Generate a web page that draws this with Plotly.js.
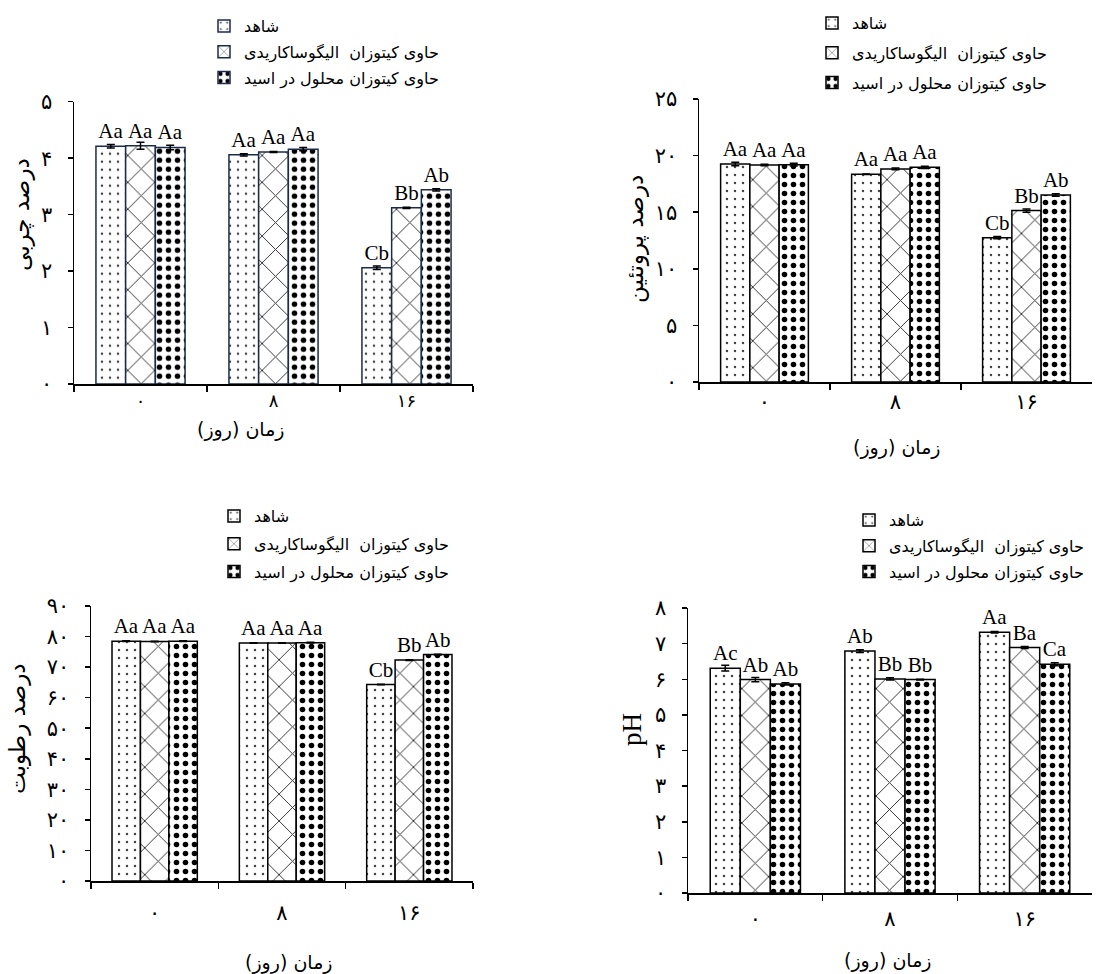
<!DOCTYPE html>
<html>
<head>
<meta charset="utf-8">
<script src="https://cdn.plot.ly/plotly-3.0.1.min.js"></script>
<style>html,body{margin:0;padding:0;background:#fff;}#chart{width:1118px;height:974px;}</style>
</head>
<body>
<div id="chart"></div>
<script>
// ---------- data ----------
const categories = ['۰', '۸', '۱۶'];
const seriesNames = ['شاهد', 'حاوی کیتوزان  الیگوساکاریدی', 'حاوی کیتوزان محلول در اسید'];

// fat %
const fatControl = [4.21, 4.06, 2.06];
const fatOligo   = [4.22, 4.11, 3.12];
const fatAcid    = [4.19, 4.16, 3.44];
const fatErrControl = [0.03, 0.02, 0.03];
const fatErrOligo   = [0.06, 0.01, 0.01];
const fatErrAcid    = [0.04, 0.03, 0.02];
const fatLabels = [['Aa','Aa','Cb'], ['Aa','Aa','Bb'], ['Aa','Aa','Ab']];

// protein %
const protControl = [19.26, 18.35, 12.75];
const protOligo   = [19.17, 18.82, 15.14];
const protAcid    = [19.20, 18.96, 16.52];
const protErrControl = [0.15, 0.03, 0.10];
const protErrOligo   = [0.06, 0.08, 0.15];
const protErrAcid    = [0.12, 0.10, 0.10];
const protLabels = [['Aa','Aa','Cb'], ['Aa','Aa','Bb'], ['Aa','Aa','Ab']];

// moisture %
const moistControl = [78.5, 77.9, 64.3];
const moistOligo   = [78.4, 77.9, 72.3];
const moistAcid    = [78.5, 78.0, 74.1];
const moistErrControl = [0.1, 0.1, 0.1];
const moistErrOligo   = [0.1, 0.1, 0.1];
const moistErrAcid    = [0.1, 0.1, 0.1];
const moistLabels = [['Aa','Aa','Cb'], ['Aa','Aa','Bb'], ['Aa','Aa','Ab']];

// pH
const phControl = [6.31, 6.79, 7.32];
const phOligo   = [5.99, 6.01, 6.89];
const phAcid    = [5.87, 5.99, 6.42];
const phErrControl = [0.08, 0.04, 0.02];
const phErrOligo   = [0.06, 0.03, 0.03];
const phErrAcid    = [0.03, 0.01, 0.04];
const phLabels = [['Ac','Ab','Aa'], ['Ab','Bb','Ba'], ['Ab','Bb','Ca']];

// tick labels
const fatTickVals = [0, 1, 2, 3, 4, 5];
const fatTickText = ['۰', '۱', '۲', '۳', '۴', '۵'];
const protTickVals = [0, 5, 10, 15, 20, 25];
const protTickText = ['۰', '۵', '۱۰', '۱۵', '۲۰', '۲۵'];
const moistTickVals = [0, 10, 20, 30, 40, 50, 60, 70, 80, 90];
const moistTickText = ['۰', '۱۰', '۲۰', '۳۰', '۴۰', '۵۰', '۶۰', '۷۰', '۸۰', '۹۰'];
const phTickVals = [0, 1, 2, 3, 4, 5, 6, 7, 8];
const phTickText = ['۰', '۱', '۲', '۳', '۴', '۵', '۶', '۷', '۸'];

const xTitleText = 'زمان (روز)';
const yTitles = ['درصد چربی', 'درصد پروتئین', 'درصد رطوبت', 'pH'];

// ---------- styling ----------
const FA = 'DejaVu Sans, sans-serif';
const SERIF = 'Liberation Serif, Times New Roman, serif';
const patterns = [
  {shape: '.', fgcolor: '#444', bgcolor: '#fff', size: 8, solidity: 0.08, fillmode: 'replace'},
  {shape: 'x', fgcolor: '#333', bgcolor: '#fff', size: 19, solidity: 0.1, fillmode: 'replace'},
  {shape: '.', fgcolor: '#000', bgcolor: '#fff', size: 9, solidity: 0.3, fillmode: 'replace'}
];

const panels = [
  {vals: [fatControl, fatOligo, fatAcid], errs: [fatErrControl, fatErrOligo, fatErrAcid], labels: fatLabels, line: '#1c2b4a'},
  {vals: [protControl, protOligo, protAcid], errs: [protErrControl, protErrOligo, protErrAcid], labels: protLabels, line: '#000'},
  {vals: [moistControl, moistOligo, moistAcid], errs: [moistErrControl, moistErrOligo, moistErrAcid], labels: moistLabels, line: '#000'},
  {vals: [phControl, phOligo, phAcid], errs: [phErrControl, phErrOligo, phErrAcid], labels: phLabels, line: '#000'}
];

const traces = [];
panels.forEach((p, pi) => {
  const suffix = pi === 0 ? '' : String(pi + 1);
  for (let s = 0; s < 3; s++) {
    traces.push({
      type: 'bar',
      x: categories,
      y: p.vals[s],
      name: seriesNames[s],
      xaxis: 'x' + suffix,
      yaxis: 'y' + suffix,
      legend: 'legend' + suffix,
      legendgroup: 'g' + pi + '_' + s,
      marker: {color: '#fff', pattern: patterns[s], line: {color: p.line, width: 1.5}},
      error_y: {type: 'data', array: p.errs[s], visible: true, color: '#000', thickness: 1.5, width: 4},
      text: p.labels[s],
      textposition: 'outside',
      constraintext: 'none',
      cliponaxis: false,
      textfont: {family: SERIF, size: 21, color: '#000'},
      hoverinfo: 'skip'
    });
  }
});

function px(x) { return x / 1118; }
function py(y) { return 1 - y / 974; }

function yAx(domain, range, tv, tt, anchor) {
  return {
    domain: domain, range: range, anchor: anchor,
    tickvals: tv, ticktext: tt, ticks: 'outside', ticklen: 5, tickwidth: 1.5, tickcolor: '#000',
    showline: true, linecolor: '#000', linewidth: 1.5, showgrid: false, zeroline: false,
    tickfont: {family: FA, size: 21, color: '#000'}, ticklabelstandoff: 11,
    fixedrange: true
  };
}
function xAx(domain, anchor, standoff, fsize) {
  return {
    domain: domain, anchor: anchor, type: 'category',
    ticks: 'outside', tickson: 'boundaries', ticklen: 6, tickwidth: 1.5, tickcolor: '#000',
    showline: true, linecolor: '#000', linewidth: 1.5, showgrid: false, zeroline: false,
    tickfont: {family: FA, size: fsize || 21, color: '#000'}, ticklabelstandoff: standoff,
    fixedrange: true
  };
}
function leg(x, y, gap) {
  return {x: x, y: y, xanchor: 'left', yanchor: 'top', bgcolor: 'rgba(0,0,0,0)',
          font: {family: FA, size: 16, color: '#000'}, tracegroupgap: gap, traceorder: 'grouped',
          itemclick: false, itemdoubleclick: false};
}
function titleAnn(text, x, y, angle, font) {
  return {text: text, x: px(x), y: py(y), xref: 'paper', yref: 'paper', showarrow: false,
          textangle: angle, xanchor: 'center', yanchor: 'middle', font: font};
}
const yTitleFont = {family: FA, size: 23, color: '#000'};
const xTitleFont = {family: FA, size: 19, color: '#000'};

const layout = {
  width: 1118, height: 974,
  margin: {l: 0, r: 0, t: 0, b: 0},
  paper_bgcolor: '#fff', plot_bgcolor: '#fff',
  barmode: 'group', bargap: 0.33, bargroupgap: 0,
  showlegend: true,
  font: {family: FA, color: '#000'},
  xaxis:  xAx([px(74), px(473)], 'y', 0, 18),
  yaxis:  yAx([py(384), py(101.7)], [0, 5], fatTickVals, fatTickText, 'x'),
  xaxis2: xAx([px(699), px(1092)], 'y2', 0),
  yaxis2: yAx([py(382), py(99)], [0, 25], protTickVals, protTickText, 'x2'),
  xaxis3: xAx([px(91), px(473)], 'y3', 12),
  yaxis3: yAx([py(881), py(606)], [0, 90], moistTickVals, moistTickText, 'x3'),
  xaxis4: xAx([px(688), px(1092)], 'y4', 6),
  yaxis4: yAx([py(893), py(608)], [0, 8], phTickVals, phTickText, 'x4'),
  legend:  leg(px(204), py(9), 2),
  legend2: leg(px(812), py(6), 6),
  legend3: leg(px(214), py(499), 4),
  legend4: leg(px(849), py(503), 2),
  annotations: [
    titleAnn(yTitles[0], 22, 215, -90, yTitleFont),
    titleAnn(yTitles[1], 635, 239, -90, yTitleFont),
    titleAnn(yTitles[2], 17, 729, -90, yTitleFont),
    titleAnn(yTitles[3], 632, 730, -90, {family: SERIF, size: 27, color: '#000'}),
    titleAnn(xTitleText, 241, 430, 0, xTitleFont),
    titleAnn(xTitleText, 897, 447, 0, xTitleFont),
    titleAnn(xTitleText, 289, 962, 0, xTitleFont),
    titleAnn(xTitleText, 888, 960, 0, xTitleFont)
  ]
};

Plotly.newPlot('chart', traces, layout, {staticPlot: true, displayModeBar: false});
</script>
</body>
</html>
